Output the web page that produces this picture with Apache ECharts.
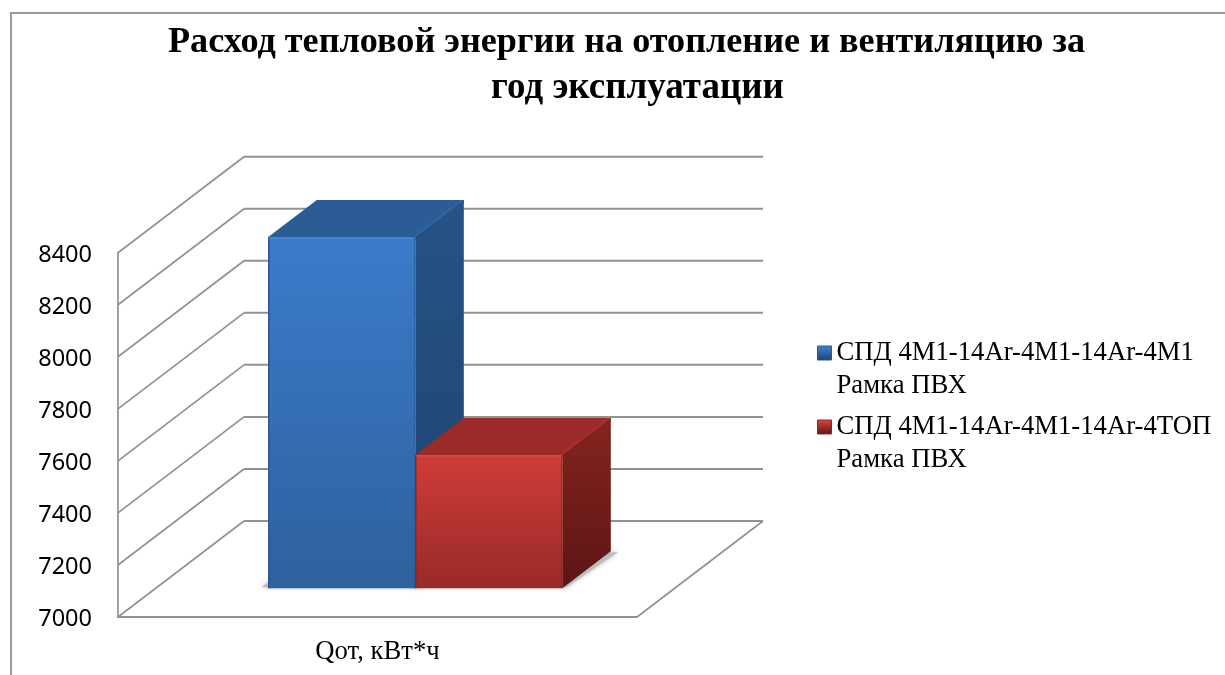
<!DOCTYPE html>
<html><head><meta charset="utf-8">
<style>html,body{margin:0;padding:0;background:#fff}#c{width:1225px;height:675px}</style>
<script src="https://cdn.jsdelivr.net/npm/echarts@6/dist/echarts.min.js"></script>
</head><body><div id="c"></div>
<script>
const titleLines = ['Расход тепловой энергии на отопление и вентиляцию за', 'год эксплуатации'];
const categories = ['Qот, кВт*ч'];
const seriesNames = ['СПД 4М1-14Ar-4М1-14Ar-4М1\nРамка ПВХ', 'СПД 4М1-14Ar-4М1-14Ar-4ТОП\nРамка ПВХ'];
const blueValues = [8350];
const redValues = [7512];
const yTicks = [7000, 7200, 7400, 7600, 7800, 8000, 8200, 8400];

const depthX = 126, depthY = 96, barFront = 0.3, barBack = 0.685, gapRatio = 1.53;
const grad = (a, b) => new echarts.graphic.LinearGradient(0, 0, 0, 1, [{offset: 0, color: a}, {offset: 1, color: b}]);
const palette = [
  {front: ['#3b7bca', '#2e619d'], top: '#2b5c96', bevel: '#2f66a8', side: ['#265385', '#1f4270'], edge: '#2a5a96', hi: '#4283d2'},
  {front: ['#d03c39', '#982a28'], top: '#9a2b29', bevel: '#a83230', side: ['#84241f', '#5d1614'], edge: '#8e2624', hi: '#d84643'}
];

function geom(api) {
  const base = api.coord([api.value(0), yTicks[0]]);
  const band = api.size([1, 0])[0];
  return {base, band, w: band / (seriesNames.length + gapRatio)};
}
const poly = (points, fill, extra) => ({type: 'polygon', shape: {points}, style: Object.assign({fill}, extra || {}), silent: true});
const line = (x1, y1, x2, y2, stroke, lineWidth) => ({type: 'line', shape: {x1, y1, x2, y2}, style: {stroke, lineWidth, fill: null}, silent: true});

function renderBar(idx) {
  const p = palette[idx];
  return function (params, api) {
    const g = geom(api);
    const top = api.coord([api.value(0), api.value(1)]);
    const fx = g.base[0] - g.w * seriesNames.length / 2 + idx * g.w + depthX * barFront;
    const fy = g.base[1] - depthY * barFront;
    const ty = top[1] - depthY * barFront;
    const dx = depthX * (barBack - barFront), dy = depthY * (barBack - barFront);
    const r = fx + g.w;
    return {type: 'group', children: [
      poly([[fx, ty], [fx + dx, ty - dy], [r + dx, ty - dy], [r, ty]], p.top),
      poly([[r - 3, ty], [r + dx - 3, ty - dy], [r + dx, ty - dy], [r + dx, ty - dy + 3], [r, ty + 3]], p.bevel),
      poly([[r, ty], [r + dx, ty - dy], [r + dx, fy - dy], [r, fy]], grad(p.side[0], p.side[1])),
      {type: 'rect', shape: {x: fx, y: ty, width: g.w, height: fy - ty}, style: {fill: grad(p.front[0], p.front[1])}, silent: true},
      line(fx, ty + 1, r, ty + 1, p.hi, 2),
      line(fx + 0.5, ty, fx + 0.5, fy, p.edge, 1.5),
      line(r - 0.5, ty, r - 0.5, fy, p.edge, 1)
    ]};
  };
}

function renderShadow(params, api) {
  const g = geom(api);
  const i = params.dataIndex;
  const fx = g.base[0] - g.w * seriesNames.length / 2 + i * g.w + depthX * barFront;
  const fy = g.base[1] - depthY * barFront;
  const dx = depthX * (barBack - barFront), dy = depthY * (barBack - barFront);
  return {type: 'group', children: [
    poly([[fx - 7, fy - 1], [fx, fy - 6], [fx + dx, fy - dy], [fx + g.w + dx + 7, fy - dy + 1], [fx + g.w + 4, fy - 1]], '#bdbdbd', {shadowBlur: 5, shadowColor: '#bbbbbb'})
  ]};
}

function renderWall(params, api) {
  const c = api.coord([api.value(0), api.value(1)]);
  const band = api.size([1, 0])[0];
  const x0 = c[0] - band / 2, x1 = c[0] + band / 2, y = c[1];
  const col = '#929292';
  const kids = [
    line(x0, y, x0 + depthX, y - depthY, col, 1.7),
    line(x0 + depthX, y - depthY, x1 + depthX, y - depthY, col, 2)
  ];
  if (api.value(1) === yTicks[0]) kids.push(line(x1, y, x1 + depthX, y - depthY, col, 1.7));
  return {type: 'group', children: kids};
}

const cat = categories[0];
const legendBase = {
  orient: 'vertical', left: 812, itemWidth: 14, itemHeight: 14, selectedMode: false, icon: 'rect',
  formatter: n => '\n' + n,
  textStyle: {fontFamily: 'Liberation Serif', fontSize: 26.7, color: '#000', lineHeight: 33},
  itemGap: 0
};
const legendStyles = palette.map(p => ({color: grad(p.hi, p.side[1]), borderColor: p.edge, borderWidth: 1}));
const titleStyle = {fontFamily: 'Liberation Serif', fontWeight: 'bold', fontSize: 36.2, color: '#000'};

const option = {
  animation: false,
  backgroundColor: '#fff',
  title: [
    {text: titleLines[0], left: 621.5, top: 20, textAlign: 'center', textStyle: titleStyle},
    {text: titleLines[1], left: 632.5, top: 65, textAlign: 'center', textStyle: Object.assign({}, titleStyle, {fontSize: 37})}
  ],
  legend: [
    Object.assign({}, legendBase, {top: 298.5, data: [{name: seriesNames[0], itemStyle: legendStyles[0]}]}),
    Object.assign({}, legendBase, {top: 372.5, data: [{name: seriesNames[1], itemStyle: legendStyles[1]}]})
  ],
  grid: {left: 118, right: 588, top: 252.7, bottom: 58, containLabel: false},
  xAxis: {
    type: 'category', data: categories,
    axisLine: {lineStyle: {color: '#929292', width: 2}}, axisTick: {show: false},
    axisLabel: {fontFamily: 'Liberation Serif', fontSize: 26.7, color: '#000', margin: 21}
  },
  yAxis: {
    type: 'value', min: yTicks[0], max: yTicks[yTicks.length - 1], interval: 200,
    axisLine: {show: true, lineStyle: {color: '#929292', width: 1.7}}, axisTick: {show: false},
    splitLine: {show: false},
    axisLabel: {fontFamily: 'Noto Sans', fontSize: 23.5, color: '#000', margin: 26, verticalAlign: 'top', lineHeight: 5, formatter: v => String(v)}
  },
  series: [
    {type: 'custom', name: 'walls', z: 1, clip: false, silent: true, renderItem: renderWall, encode: {x: 0, y: 1}, data: yTicks.map(t => [cat, t])},
    {type: 'custom', name: 'shadow', z: 2, clip: false, silent: true, renderItem: renderShadow, encode: {x: 0, y: 1}, data: [[cat, blueValues[0]], [cat, redValues[0]]]},
    {type: 'custom', name: seriesNames[0], z: 3, clip: false, renderItem: renderBar(0), encode: {x: 0, y: 1}, itemStyle: {color: palette[0].front[0]}, data: [[cat, blueValues[0]]]},
    {type: 'custom', name: seriesNames[1], z: 4, clip: false, renderItem: renderBar(1), encode: {x: 0, y: 1}, itemStyle: {color: palette[1].front[0]}, data: [[cat, redValues[0]]]}
  ],
  graphic: [{type: 'polyline', silent: true, shape: {points: [[11, 675], [11, 13], [1225, 13]]}, style: {stroke: '#9a9a9a', lineWidth: 2, fill: null}}]
};
echarts.init(document.getElementById('c'), null, {renderer: 'canvas'}).setOption(option);
</script></body></html>
